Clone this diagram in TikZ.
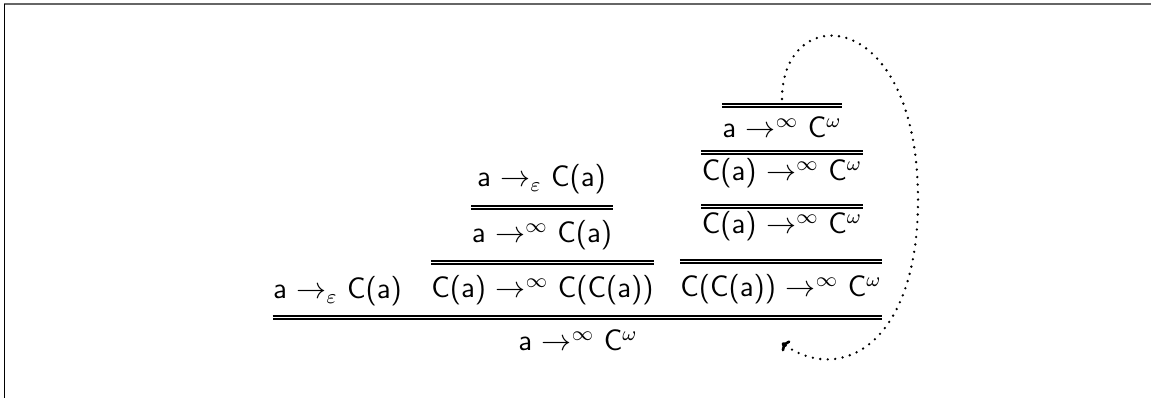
\documentclass[tikz,border=0pt]{standalone}
\usepackage{fontspec}
\usetikzlibrary{arrows.meta}
\begin{document}
\begin{tikzpicture}[x=0.4pt,y=-0.4pt,
  f/.style={inner sep=0pt,anchor=base,font=\sffamily\fontsize{11.8}{14}\selectfont},
  dbl/.style={double,double distance=0.75pt,line width=0.45pt},
  loopline/.style={line width=1.05pt,line cap=round,dash pattern=on 0pt off 3pt},
  frame/.style={line width=0.6pt}]
\useasboundingbox (0,0) rectangle (1151,398);
\draw[frame,gray!80!black] (4,4) -- (1151,4);
\draw[frame,black] (4.5,4) -- (4.5,398);
% bottom row premises
\node[f] (P1) at (337.5,299) {a $\to_{\varepsilon}$ C(a)};
\node[f] (P2) at (542.5,298) {C(a) $\to^{\infty}$ C(C(a))};
\node[f] (P3) at (781,297) {C(C(a)) $\to^{\infty}$ C$^{\omega}$};
% conclusion
\node[f] (C0) at (578,351) {a $\to^{\infty}$ C$^{\omega}$};
% middle subtree
\node[f] (P2a) at (542,243) {a $\to^{\infty}$ C(a)};
\node[f] (P2b) at (541.5,187) {a $\to_{\varepsilon}$ C(a)};
% right subtree
\node[f] (P3a) at (782,234) {C(a) $\to^{\infty}$ C$^{\omega}$};
\node[f] (P3b) at (782,181) {C(a) $\to^{\infty}$ C$^{\omega}$};
\node[f] (P3c) at (782,138) {a $\to^{\infty}$ C$^{\omega}$};
% inference lines
\draw[dbl] (P1.west |- 0,317.5) -- (P3.east |- 0,317.5);
\draw[dbl] (P2.west |- 0,262.5) -- (P2.east |- 0,262.5);
\draw[dbl] (P2a.west |- 0,207.5) -- (P2a.east |- 0,207.5);
\draw[dbl] (P3.west |- 0,261.5) -- (P3.east |- 0,261.5);
\draw[dbl] (P3a.west |- 0,206.5) -- (P3a.east |- 0,206.5);
\draw[dbl] (P3b.west |- 0,152.5) -- (P3b.east |- 0,152.5);
\draw[dbl] (P3c.west |- 0,105.5) -- (P3c.east |- 0,105.5);
% dotted loop
\coordinate (ls) at (782,99);
\coordinate (le) at (782,343);
\draw[loopline,-{To[length=2.5pt]}] (ls) .. controls (782,0) and (918,5) .. (918,200)
  .. controls (918,345) and (840,385) .. (le);
\end{tikzpicture}
\end{document}
